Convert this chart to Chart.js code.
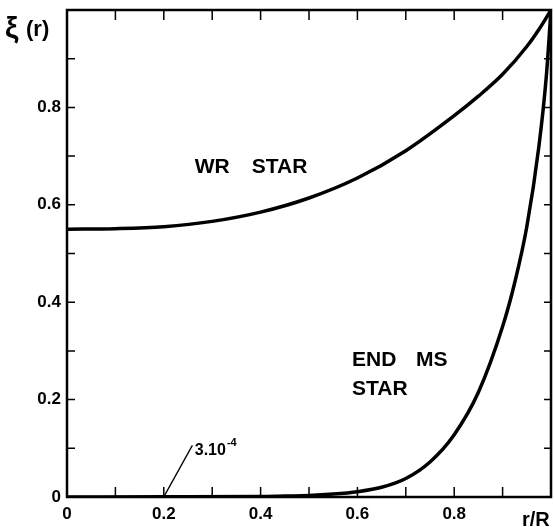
<!DOCTYPE html>
<html>
<head>
<meta charset="utf-8">
<script src="https://cdn.jsdelivr.net/npm/chart.js@4"></script>
<style>
html,body{margin:0;padding:0;background:#fff;}
#wrap{width:554px;height:527px;position:relative;}
</style>
</head>
<body>
<div id="wrap"><canvas id="c" width="554" height="527"></canvas></div>
<script>
// ---- data ----
const wrX = [0, 0.1, 0.2, 0.3, 0.4, 0.5, 0.6, 0.7, 0.8, 0.85, 0.9, 0.95, 0.975, 1.0];
const wrY = [0.550, 0.551, 0.555, 0.566, 0.585, 0.614, 0.655, 0.711, 0.783, 0.823, 0.868, 0.925, 0.960, 1.0];

const msX = [0, 0.2, 0.4, 0.45, 0.5, 0.55, 0.6, 0.65, 0.7, 0.75, 0.8, 0.85, 0.9, 0.925, 0.95, 0.975, 0.99, 1.0];
const msY = [0.0001, 0.0003, 0.001, 0.002, 0.003, 0.006, 0.011, 0.020, 0.038, 0.072, 0.128, 0.215, 0.350, 0.44, 0.555, 0.72, 0.86, 1.0];

const tickValues = [0, 0.1, 0.2, 0.3, 0.4, 0.5, 0.6, 0.7, 0.8, 0.9, 1.0];
const xTickLabels = ['0', '0.2', '0.4', '0.6', '0.8'];
const yTickLabels = ['0', '0.2', '0.4', '0.6', '0.8'];

const seriesLabels = ['WR STAR', 'END MS STAR'];
const noteValue = {x: 0.2, y: 0.0003, text: '3.10', exp: '-4'};

// ---- build ----
const toPts = (xs, ys) => xs.map((x, i) => ({x: x, y: ys[i]}));
const FONT = '"Liberation Sans", Arial, Helvetica, sans-serif';

const frame = {
  id: 'frame',
  afterDatasetsDraw(chart) {
    const {ctx, chartArea: a, scales} = chart;
    const xs = scales.x, ys = scales.y;
    ctx.save();
    ctx.strokeStyle = '#000';
    ctx.lineWidth = 2.5;
    ctx.strokeRect(a.left, a.top, a.right - a.left, a.bottom - a.top);
    ctx.lineWidth = 1.5;
    ctx.beginPath();
    tickValues.forEach(v => {
      const px = xs.getPixelForValue(v);
      const py = ys.getPixelForValue(v);
      ctx.moveTo(px, a.bottom); ctx.lineTo(px, a.bottom - 10);
      ctx.moveTo(px, a.top); ctx.lineTo(px, a.top + 10);
      ctx.moveTo(a.left, py); ctx.lineTo(a.left + 8, py);
      ctx.moveTo(a.right, py); ctx.lineTo(a.right - 7, py);
    });
    ctx.stroke();

    ctx.fillStyle = '#000';
    ctx.textBaseline = 'alphabetic';
    ctx.textAlign = 'left';
    ctx.font = 'bold 21px ' + FONT;
    const P = (x, y) => [xs.getPixelForValue(x), ys.getPixelForValue(y)];
    let [tx, ty] = P(0.264, 0.666);
    ctx.fillText('WR', tx, ty);
    ctx.fillText('STAR', tx + 57, ty);
    [tx, ty] = P(0.589, 0.268);
    ctx.fillText('END', tx, ty);
    ctx.fillText('MS', tx + 64, ty);
    [tx, ty] = P(0.589, 0.209);
    ctx.fillText('STAR', tx, ty);

    ctx.lineWidth = 1.3;
    ctx.beginPath();
    let [lx, ly] = P(noteValue.x, noteValue.y);
    let [ex, ey] = P(0.259, 0.106);
    ctx.moveTo(lx, ly); ctx.lineTo(ex, ey);
    ctx.stroke();
    ctx.font = 'bold 16px ' + FONT;
    [tx, ty] = P(0.264, 0.087);
    ctx.fillText(noteValue.text, tx, ty);
    const w = ctx.measureText(noteValue.text).width;
    ctx.font = 'bold 11px ' + FONT;
    ctx.fillText(noteValue.exp, tx + w + 1, ty - 9);

    ctx.font = 'bold 30px ' + FONT;
    ctx.fillText('ξ', 5, 38);
    ctx.font = 'bold 22px ' + FONT;
    ctx.fillText('(r)', 26, 36);
    ctx.font = 'bold 20px ' + FONT;
    ctx.fillText('r/R', 522, 526);
    ctx.restore();
  }
};

new Chart(document.getElementById('c'), {
  type: 'line',
  data: {
    datasets: [
      {label: seriesLabels[0], data: toPts(wrX, wrY)},
      {label: seriesLabels[1], data: toPts(msX, msY)}
    ]
  },
  options: {
    responsive: false,
    animation: false,
    devicePixelRatio: 1,
    layout: {padding: {top: 10, right: 3, left: 0, bottom: 0}},
    elements: {
      line: {borderColor: '#000', borderWidth: 3.5, cubicInterpolationMode: 'monotone', fill: false},
      point: {radius: 0}
    },
    plugins: {legend: {display: false}, tooltip: {enabled: false}},
    scales: {
      x: {
        type: 'linear', min: 0, max: 1,
        grid: {display: false, drawTicks: false},
        border: {display: false},
        afterFit(s) { s.height = 30; s.paddingLeft = 0; s.paddingRight = 0; },
        afterBuildTicks(s) { s.ticks = tickValues.map(v => ({value: v})); },
        ticks: {
          autoSkip: false, maxRotation: 0, padding: 7, color: '#000',
          font: {family: FONT, size: 17, weight: 'bold'},
          callback(v) {
            const i = Math.round(v * 10);
            return (i % 2 === 0 && i / 2 < xTickLabels.length) ? xTickLabels[i / 2] : '';
          }
        }
      },
      y: {
        type: 'linear', min: 0, max: 1,
        grid: {display: false, drawTicks: false},
        border: {display: false},
        afterFit(s) { s.width = 67; s.paddingTop = 0; s.paddingBottom = 0; },
        afterBuildTicks(s) { s.ticks = tickValues.map(v => ({value: v})); },
        ticks: {
          autoSkip: false, padding: 6, color: '#000',
          font: {family: FONT, size: 17, weight: 'bold'},
          callback(v) {
            const i = Math.round(v * 10);
            return (i % 2 === 0 && i / 2 < yTickLabels.length) ? yTickLabels[i / 2] : '';
          }
        }
      }
    }
  },
  plugins: [frame]
});
</script>
</body>
</html>
